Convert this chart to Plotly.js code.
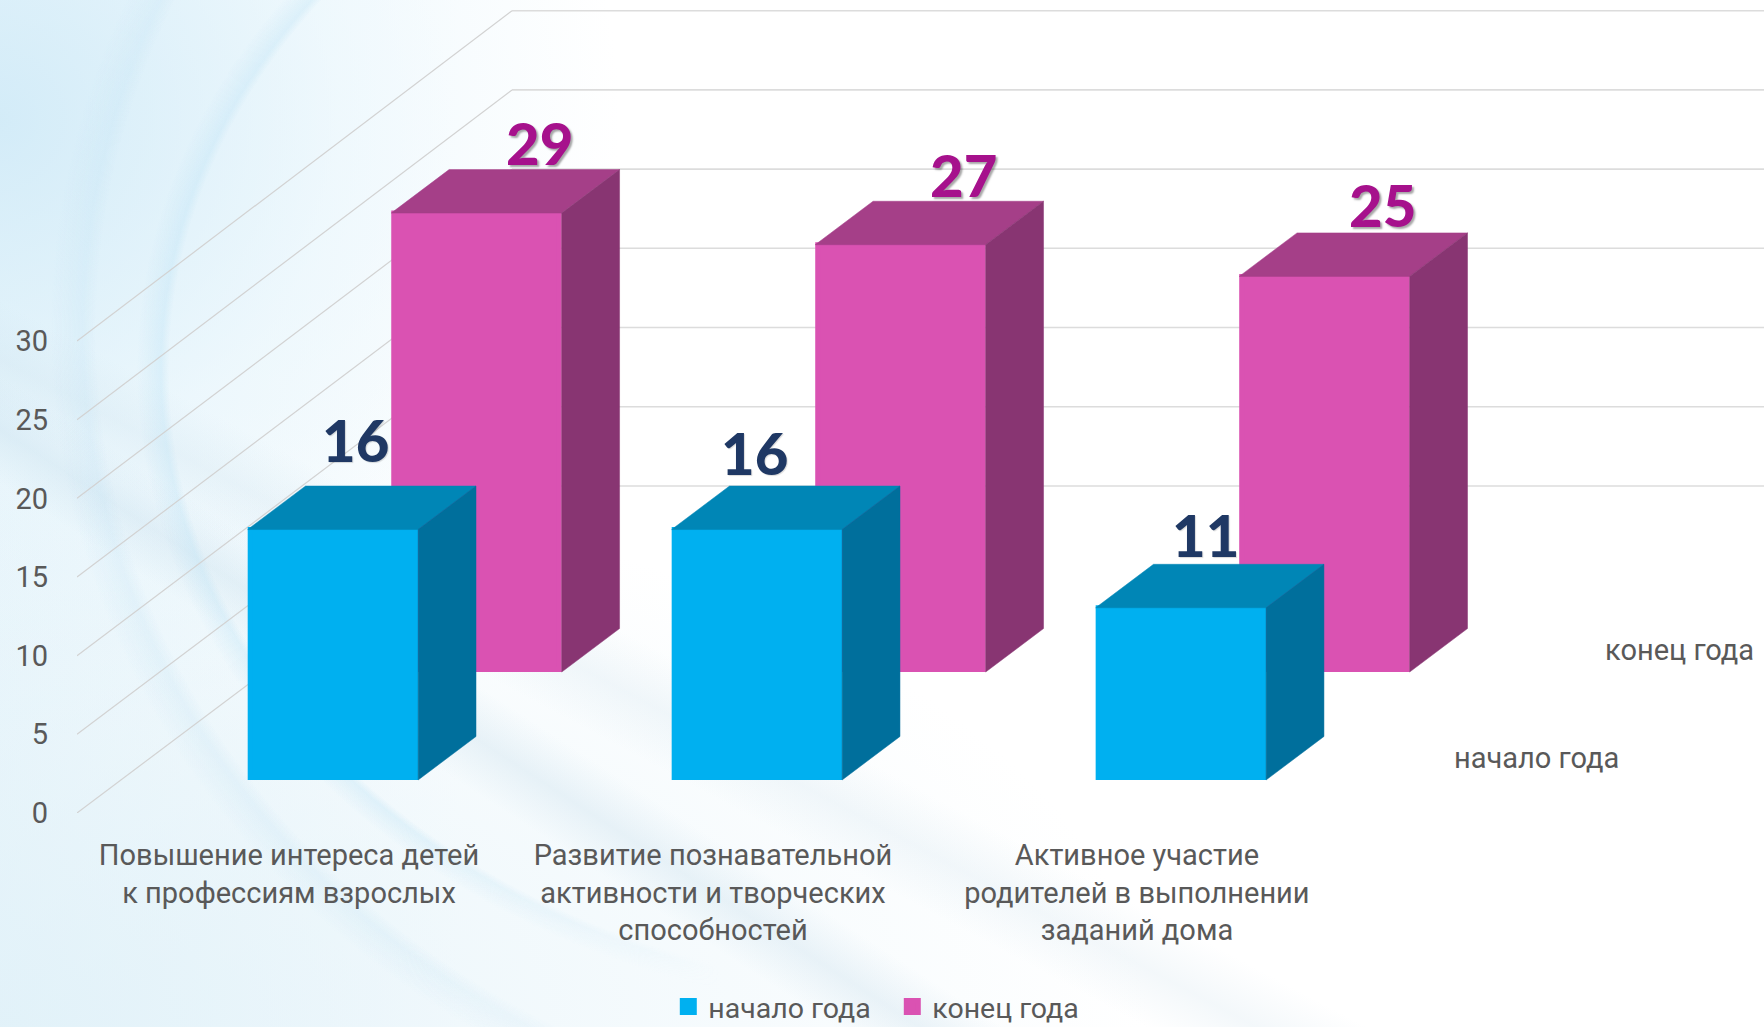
<!DOCTYPE html>
<html><head><meta charset="utf-8">
<script src="https://cdn.plot.ly/plotly-3.0.1.min.js"></script>
<style>
html,body{margin:0;padding:0;width:1764px;height:1027px;overflow:hidden;background:#fff}
#bg{position:absolute;left:0;top:0;width:1764px;height:1027px;background:
 linear-gradient(213deg, rgba(255,255,255,0) 70%, rgba(180,210,228,.24) 72.5%, rgba(255,255,255,0) 75%),
 linear-gradient(208deg, rgba(255,255,255,0) 63%, rgba(190,215,230,.18) 66%, rgba(255,255,255,0) 69%),
 radial-gradient(ellipse 1150px 560px at 0px 1027px, rgba(222,240,248,.75), rgba(255,255,255,0) 100%),
 radial-gradient(ellipse 620px 620px at 0px 120px, rgba(205,233,247,.8), rgba(230,245,252,.55) 55%, rgba(255,255,255,0) 100%),
 linear-gradient(90deg, rgba(228,243,250,.7), rgba(255,255,255,0) 26%),
 #fff}
#rings{position:absolute;left:0;top:0;width:720px;height:1027px;background:
 radial-gradient(ellipse 800px 640px at 945px 370px, rgba(255,255,255,0) 97%, rgba(185,225,245,.32) 98%, rgba(255,255,255,0) 101%),
 radial-gradient(ellipse 900px 820px at 960px 330px, rgba(255,255,255,0) 96%, rgba(190,225,244,.22) 97.5%, rgba(255,255,255,0) 101%);
 -webkit-mask-image:linear-gradient(90deg,#000 55%,transparent);mask-image:linear-gradient(90deg,#000 55%,transparent)}
#chart{position:absolute;left:0;top:0;width:1764px;height:1027px}
</style></head><body>
<div id="bg"></div><div id="rings"></div><div id="chart"></div>
<script>
const categories = ["Повышение интереса детей<br>к профессиям взрослых","Развитие познавательной<br>активности и творческих<br>способностей","Активное участие<br>родителей в выполнении<br>заданий дома"];
const startOfYear = [16,16,11];
const endOfYear = [29,27,25];
const seriesNames = ["начало года","конец года"];
const yTicks = [0,5,10,15,20,25,30];

// oblique projection of the chart's box
const DX=1.026, DY=20.79, WALL=1.007, W=0.402, THICK=0.133;
const PX=1/424, PY=1/15.73, STROKE=5;
const proj=(cat,val,d,vs)=>[cat+d*DX, val*vs+d*DY];
const series=[
 {name:seriesNames[0],vals:startOfYear,d:0.101,vs:0.995,front:'#00B0F0',top:'#0086B6',side:'#006F9C',label:'#1F3864',shadow:'1px 1px 1px rgba(0,0,0,.15)',
  lx:[-0.083,-0.1415,-0.078],ly:[2.95,2.15,1.9]},
 {name:seriesNames[1],vals:endOfYear,d:0.431,vs:1.006,front:'#DA52B2',top:'#A53F88',side:'#883572',label:'#A6118C',shadow:'2px 2px 2px rgba(0,0,0,.35)',
  lx:[0.012,0.012,0.0],ly:[1.75,1.7,1.8]}
];
const traces=[], shapes=[], annotations=[];
yTicks.forEach(t=>{
  const y2=t*WALL+DY;
  shapes.push({type:'line',layer:'below',x0:0,y0:t,x1:DX,y1:y2,line:{color:'#D2D2D2',width:1.2}});
  shapes.push({type:'line',layer:'below',x0:DX,y0:y2,x1:4,y1:y2,line:{color:'#DCDCDC',width:1.6}});
});
[series[1],series[0]].forEach(s=>{
  traces.push({type:'bar',name:s.name,x:s.vals.map((v,i)=>i+0.5+s.d*DX),y:s.vals.map(v=>v*s.vs-STROKE*PY/2),
    base:s.vals.map(()=>s.d*DY+STROKE*PY/2),width:W-STROKE*PX,marker:{color:s.front,line:{color:s.front,width:STROKE}},showlegend:true,legendrank:s===series[0]?1:2,hoverinfo:'skip'});
});
[series[1],series[0]].forEach(s=>{
  s.vals.forEach((v,i)=>{
    const c=i+0.5, L=c-W/2, R=c+W/2, d0=s.d, d1=s.d+THICK;
    const poly=(pts,col)=>traces.push({type:'scatter',mode:'lines',fill:'toself',fillcolor:col,line:{width:0.5,color:col},
      x:pts.map(p=>p[0]),y:pts.map(p=>p[1]),showlegend:false,hoverinfo:'skip'});
    poly([proj(L,v,d0,s.vs),proj(R,v,d0,s.vs),proj(R,v,d1,s.vs),proj(L,v,d1,s.vs),proj(L,v,d0,s.vs)],s.top);
    poly([proj(R,0,d0,s.vs),proj(R,v,d0,s.vs),proj(R,v,d1,s.vs),proj(R,0,d1,s.vs),proj(R,0,d0,s.vs)],s.side);
    const p=proj(c,v,d1,s.vs);
    annotations.push({x:p[0]+s.lx[i],y:p[1]+s.ly[i],text:String(v),showarrow:false,xanchor:'center',yanchor:'middle',
      font:{family:'Lato',size:58,weight:900,color:s.label,shadow:s.shadow}});
  });
  const q=proj(3.27,0,s.d+THICK/2,1);
  annotations.push({x:q[0],y:q[1],text:s.name,showarrow:false,xanchor:'center',yanchor:'middle',font:{family:'Roboto',size:29,color:'#595959'}});
});
const layout={
  width:1764,height:1027,paper_bgcolor:'rgba(0,0,0,0)',plot_bgcolor:'rgba(0,0,0,0)',
  margin:{l:77,r:0,t:0,b:214,autoexpand:false},barmode:'overlay',showlegend:true,
  font:{family:'Roboto',size:29,color:'#595959'},
  xaxis:{range:[0,3.979],tickmode:'array',tickvals:[0.5,1.5,2.5],ticktext:categories,tickangle:0,showgrid:false,zeroline:false,showline:false,ticks:'',ticklabelstandoff:22,tickfont:{family:'Roboto',size:29,color:'#595959'},automargin:false},
  yaxis:{range:[0,51.68],tickmode:'array',tickvals:yTicks,showgrid:false,zeroline:false,showline:false,ticks:'',ticklabelstandoff:28,tickfont:{family:'Roboto',size:29,color:'#595959'},automargin:false},
  legend:{orientation:'h',x:0.3505,xanchor:'left',y:-0.2386,yanchor:'middle',entrywidthmode:'pixels',entrywidth:179,traceorder:'normal',bgcolor:'rgba(0,0,0,0)',font:{family:'Roboto',size:28.5,color:'#595959'}},
  shapes:shapes,annotations:annotations
};
Plotly.newPlot('chart',traces,layout,{displayModeBar:false,staticPlot:true});
</script>
</body></html>
